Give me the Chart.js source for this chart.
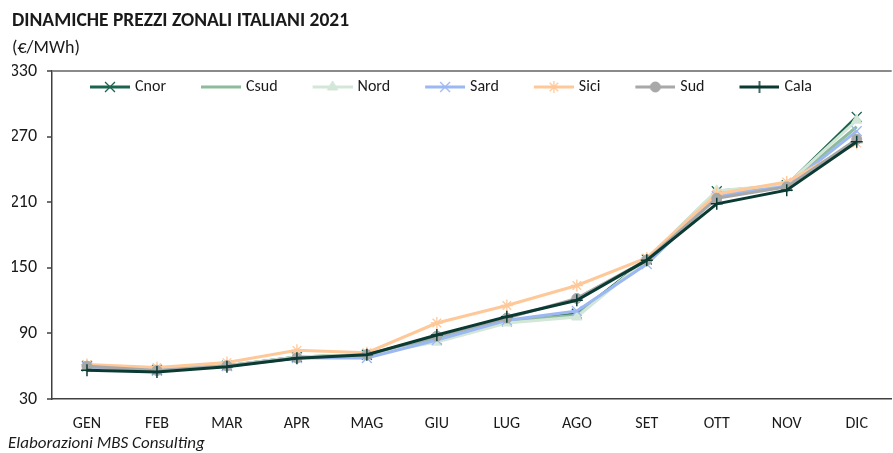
<!DOCTYPE html>
<html>
<head>
<meta charset="utf-8">
<script src="https://cdn.jsdelivr.net/npm/chart.js@4/dist/chart.umd.min.js"></script>
<style>
  html, body { margin:0; padding:0; background:#fff; overflow:hidden; }
  #wrap { position:relative; width:900px; height:453px; }
  #foot { position:absolute; left:8px; top:433px; font: italic 17px Carlito, Lato, sans-serif; line-height:20px; color:#1a1a1a; white-space:nowrap; }
</style>
</head>
<body>
<div id="wrap">
  <canvas id="c" width="900" height="453"></canvas>
  <div id="foot">Elaborazioni MBS Consulting</div>
</div>
<script>
const months = ['GEN','FEB','MAR','APR','MAG','GIU','LUG','AGO','SET','OTT','NOV','DIC'];
const yTickValues = [30, 90, 150, 210, 270, 330];
const cnor = [60.2, 56.5, 60.5, 68.5, 70.5, 84.5, 101.0, 108.0, 157.5, 220.0, 225.5, 288.0];
const csud = [59.5, 56.3, 60.3, 68.3, 70.5, 85.0, 101.5, 106.5, 157.5, 218.5, 225.5, 279.0];
const nord = [60.5, 56.8, 60.5, 68.5, 70.8, 82.0, 99.5, 105.0, 158.0, 220.5, 226.0, 285.0];
const sard = [59.5, 55.8, 60.0, 67.5, 67.5, 84.0, 102.0, 110.5, 153.5, 215.5, 224.5, 275.0];
const sici = [61.5, 58.8, 63.3, 74.5, 72.3, 99.5, 115.5, 133.8, 159.0, 217.5, 228.5, 264.0];
const sud  = [60.0, 56.0, 60.3, 67.5, 70.5, 87.5, 104.0, 122.0, 157.0, 213.5, 224.0, 267.5];
const cala = [56.2, 54.8, 59.5, 67.2, 70.5, 88.5, 105.3, 120.3, 157.0, 208.5, 221.0, 265.3];

const FONT = 'Carlito, Lato, sans-serif';

const series = [
  {label:'Cnor', data:cnor, color:'#1d6450', style:'crossRot', r:7, bw:1.3, order:7},
  {label:'Csud', data:csud, color:'#8dbb9b', style:false, r:0, bw:1, order:6},
  {label:'Nord', data:nord, color:'#d3e7d8', style:'triangle', r:6, bw:1, order:5},
  {label:'Sard', data:sard, color:'#9cb8f2', style:'crossRot', r:7, bw:1.3, order:4},
  {label:'Sici', data:sici, color:'#ffc898', style:'star', r:6, bw:1.3, order:3},
  {label:'Sud',  data:sud,  color:'#a8a8a8', style:'circle', r:5, bw:1, order:2},
  {label:'Cala', data:cala, color:'#0b3a32', style:'cross', r:6, bw:1.5, order:1}
];

// legend sample: transparent left part, 40px line with marker at its middle on the right
function legendImage(s) {
  const cv = document.createElement('canvas');
  cv.width = 78; cv.height = 14;
  const ctx = cv.getContext('2d');
  ctx.strokeStyle = s.color; ctx.lineWidth = 3;
  ctx.beginPath(); ctx.moveTo(38, 7); ctx.lineTo(78, 7); ctx.stroke();
  if (s.style) {
    ctx.fillStyle = s.color; ctx.strokeStyle = s.color;
    ctx.lineWidth = s.bw;
    Chart.helpers.drawPoint(ctx, {pointStyle:s.style, rotation:0, radius:s.r, borderWidth:s.bw}, 58, 7);
    if (s.style === 'triangle' || s.style === 'circle') ctx.fill();
  }
  return cv;
}

const datasets = series.map(s => ({
  label: s.label,
  data: s.data,
  borderColor: s.color,
  backgroundColor: s.color,
  borderWidth: 3,
  tension: 0,
  order: s.order,
  pointStyle: s.style || 'circle',
  pointRadius: s.style ? s.r : 0,
  pointHoverRadius: s.style ? s.r : 0,
  pointBorderWidth: s.bw,
  pointBackgroundColor: s.color,
  pointBorderColor: s.color,
  legendImg: legendImage(s)
}));

const legendInPlot = {
  id: 'legendInPlot',
  afterInit(chart) {
    if (chart.legend) chart.legend.isHorizontal = () => true;
  },
  afterLayout(chart) {
    const lg = chart.legend;
    if (lg) { lg.left = 55; lg.top = 79; }
  }
};

new Chart(document.getElementById('c'), {
  type: 'line',
  data: { labels: months, datasets },
  plugins: [legendInPlot],
  options: {
    responsive: false,
    animation: false,
    devicePixelRatio: 1,
    layout: { padding: { left: 12, right: 0, top: 0, bottom: 0 } },
    plugins: {
      title: {
        display: true, text: 'DINAMICHE PREZZI ZONALI ITALIANI 2021', align: 'start',
        color: '#1a1a1a', font: { family: FONT, size: 19.5, weight: 'bold', lineHeight: 1.2 },
        padding: { top: 9.3, bottom: 4.8 }
      },
      subtitle: {
        display: true, text: '(€/MWh)', align: 'start',
        color: '#1a1a1a', font: { family: FONT, size: 18, lineHeight: 1.2 },
        padding: { top: 0, bottom: 11.9 }
      },
      legend: {
        position: 'chartArea', align: 'start',
        labels: {
          usePointStyle: true, pointStyleWidth: 72, padding: 0,
          color: '#1a1a1a', font: { family: FONT, size: 16 },
          generateLabels(chart) {
            return chart.data.datasets.map((d, i) => ({
              text: d.label, pointStyle: d.legendImg, fillStyle: d.borderColor,
              strokeStyle: d.borderColor, lineWidth: 0, hidden: false, datasetIndex: i,
              fontColor: '#1a1a1a'
            }));
          }
        }
      },
      tooltip: { enabled: false }
    },
    scales: {
      x: {
        offset: true,
        grid: { display: false, drawTicks: false, tickLength: 0 },
        border: { display: true, color: '#404040', width: 1.5 },
        ticks: { color: '#1a1a1a', font: { family: FONT, size: 16 }, padding: 15, maxRotation: 0, autoSkip: false },
        afterFit(scale) { scale.height = 54; }
      },
      y: {
        min: yTickValues[0], max: yTickValues[yTickValues.length - 1],
        afterBuildTicks(scale) { scale.ticks = yTickValues.map(v => ({ value: v })); },
        grid: {
          drawOnChartArea: true, drawTicks: true, tickLength: 5,
          color: c => (c.tick && c.tick.value === 330) ? '#8a8a8a' : 'rgba(0,0,0,0)',
          lineWidth: 2, tickColor: '#404040', tickWidth: 1.5
        },
        border: { display: true, color: '#404040', width: 1.5 },
        ticks: { color: '#1a1a1a', font: { family: FONT, size: 18 }, padding: 10 },
        afterFit(scale) { scale.width = 40; }
      }
    }
  }
});
</script>
</body>
</html>
